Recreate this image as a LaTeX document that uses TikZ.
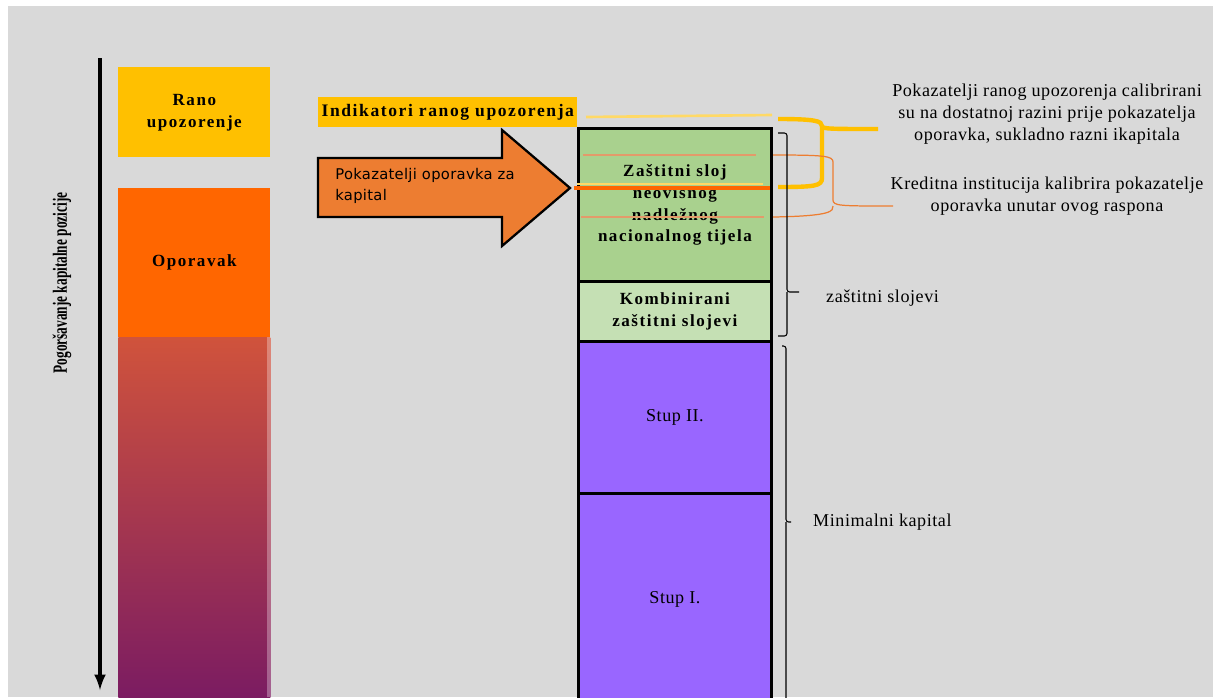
\documentclass[tikz,border=0pt]{standalone}
\usepackage{fontspec}
\setmainfont{Liberation Serif}
\newfontfamily\razmak[LetterSpace=9]{Liberation Serif}
\newfontfamily\blago[LetterSpace=3]{Liberation Serif}
\newfontfamily\uska[FakeStretch=0.66]{Liberation Serif}
\newfontfamily\bezserif[LetterSpace=2]{DejaVu Sans}
\usetikzlibrary{positioning}
\definecolor{pozadina}{HTML}{D9D9D9}
\definecolor{zuta}{HTML}{FFC000}
\definecolor{svjetlozuta}{HTML}{FFD966}
\definecolor{narancasta}{HTML}{FF6600}
\definecolor{strelicaboja}{HTML}{ED7D31}
\definecolor{blijedonarancasta}{HTML}{E39A6A}
\definecolor{zelena}{HTML}{A9D18E}
\definecolor{svjetlozelena}{HTML}{C5E0B4}
\definecolor{ljubicasta}{HTML}{9966FF}
\definecolor{crvena}{HTML}{D0533C}
\definecolor{tamna}{HTML}{7A1B62}
\begin{document}
\begin{tikzpicture}[x=0.02cm, y=-0.02cm,
        kutija/.style={anchor=north west, inner sep=0pt, align=center, minimum width=3.04cm},
        stupac/.style={anchor=north west, draw=black, line width=1.6pt, inner sep=0pt, align=center, minimum width=3.86cm},
        podebljano/.style={font=\razmak\bfseries\fontsize{9.7}{12.5}\selectfont},
        obicno/.style={font=\blago\fontsize{10.3}{12.7}\selectfont},
        zagrada/.style={draw=black, line width=0.6pt, rounded corners=1.5pt}]
        \useasboundingbox (0,0) rectangle (1213,697);
        \fill[pozadina] (8,6) rectangle (1213,697);
        % lijevi stupac
        \node[kutija, fill=zuta, minimum height=1.8cm, podebljano] (rano) at (118,67) {Rano\\upozorenje};
        \node[kutija, fill=narancasta, minimum height=2.98cm, podebljano] (oporavak) at (118,188) {Oporavak};
        \node[kutija, top color=crvena, bottom color=tamna, minimum height=7.3cm] (pogorsanje) at (118,337) {};
        \fill[white, opacity=0.3] (267,337) rectangle (271,697);
        \coordinate (vrh) at (100,58);
        \coordinate (dno) at (100,690);
        \draw[line width=2pt, -latex] (vrh) -- (dno);
        \node[rotate=90, font=\uska\bfseries\fontsize{11.5}{13}\selectfont] (os) at (62,283) {Pogoršavanje kapitalne pozicije};
        % indikatori i strelica
        \node[anchor=north west, fill=zuta, inner sep=0pt, minimum width=5.18cm, minimum height=0.6cm, font=\razmak\bfseries\fontsize{10}{12}\selectfont] (indikatori) at (318,97) {Indikatori ranog upozorenja};
        \draw[fill=strelicaboja, line width=1.3pt] (318,158) -- (502,158) -- (502,130) -- (570,188) -- (502,246) -- (502,217) -- (318,217) -- cycle;
        \node[anchor=west, align=left, inner sep=0pt, font=\bezserif\fontsize{8.4}{11.5}\selectfont] (strelica) at (335,186) {Pokazatelji oporavka za\\kapital};
        % desni stupac
        \node[stupac, fill=zelena, minimum height=3.06cm, podebljano] (zastitni) at (577,127) {Zaštitni sloj\\neovisnog\\nadležnog\\nacionalnog tijela};
        \node[stupac, fill=svjetlozelena, minimum height=1.2cm, podebljano] (kombinirani) at (577,280) {Kombinirani\\zaštitni slojevi};
        \node[stupac, fill=ljubicasta, minimum height=3.04cm, obicno] (stupII) at (577,340) {Stup II.};
        \node[stupac, fill=ljubicasta, minimum height=4.24cm, obicno] (stupI) at (577,492) {Stup I.};
        % linije razina
        \draw[svjetlozuta, line width=1.5pt] (586,117) -- (772,115);
        \draw[blijedonarancasta, line width=0.8pt] (583,155) -- (756,155);
        \draw[blijedonarancasta, line width=0.8pt] (581,217) -- (764,217);
        \draw[svjetlozuta, line width=1.5pt] (577,184) -- (763,184);
        \draw[narancasta, line width=2pt] (574,188) -- (770,188);
        % zagrade
        \draw[zuta, line width=2.5pt] (778,119) .. controls (815,119) and (822,121) .. (822,126) .. controls (822,129) and (830,129) .. (878,129);
        \draw[zuta, line width=2.5pt] (822,126) -- (822,178) .. controls (822,186) and (815,187) .. (778,187);
        \draw[strelicaboja, line width=0.7pt] (773,155) .. controls (825,155) and (833,156) .. (833,162) -- (833,200) .. controls (833,206) and (840,206) .. (893,206);
        \draw[strelicaboja, line width=0.7pt] (833,206) .. controls (833,211) and (833,216) .. (773,217);
        \draw[zagrada] (778,133) -- (787,133) -- (787,292) -- (799,292) (787,292) -- (787,336) -- (778,336);
        \draw[zagrada] (782,346) -- (786,346) -- (786,522) -- (791,522) (786,522) -- (786,705);
        % opisi
        \node[obicno, align=center] (opisRano) at (1047,114) {Pokazatelji ranog upozorenja calibrirani\\su na dostatnoj razini prije pokazatelja\\oporavka, sukladno razni ikapitala};
        \node[obicno, align=center] (opisKreditna) at (1047,196) {Kreditna institucija kalibrira pokazatelje\\oporavka unutar ovog raspona};
        \node[obicno, anchor=west] (labZastitni) at (820,298) {zaštitni slojevi};
        \node[obicno, anchor=west] (labMinimalni) at (807,522) {Minimalni kapital};
\end{tikzpicture}
\end{document}
